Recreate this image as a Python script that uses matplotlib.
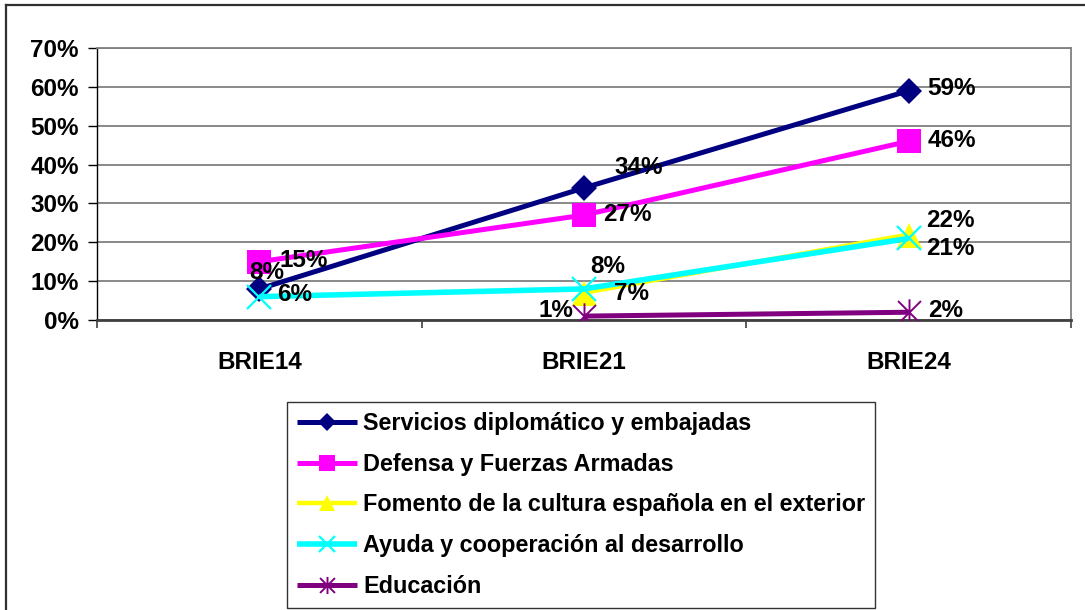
import numpy as np
import matplotlib
matplotlib.use("Agg")
import matplotlib.pyplot as plt
from matplotlib.path import Path
from matplotlib.lines import Line2D

plt.rcParams['font.family'] = ['Liberation Sans', 'DejaVu Sans']
plt.rcParams['font.weight'] = 'bold'

categories = ["BRIE14", "BRIE21", "BRIE24"]
servicios = [0.08, 0.34, 0.59]
defensa = [0.15, 0.27, 0.46]
fomento = [np.nan, 0.07, 0.22]
ayuda = [0.06, 0.08, 0.21]
educacion = [np.nan, 0.01, 0.02]
series_names = ["Servicios diplomático y embajadas", "Defensa y Fuerzas Armadas",
                "Fomento de la cultura española en el exterior",
                "Ayuda y cooperación al desarrollo", "Educación"]
yticks = [0, 0.1, 0.2, 0.3, 0.4, 0.5, 0.6, 0.7]

star = Path([(-1, -1), (1, 1), (-1, 1), (1, -1), (0, -1.15), (0, 1.15)],
            [Path.MOVETO, Path.LINETO, Path.MOVETO, Path.LINETO, Path.MOVETO, Path.LINETO])

styles = [
    dict(color="#000080", marker="D", ms=13.5, lw=3.6, mew=0),
    dict(color="#FF00FF", marker="s", ms=17, lw=3.6, mew=0),
    dict(color="#FFFF00", marker="^", ms=18, lw=3.2, mew=0),
    dict(color="#00FFFF", marker="x", ms=17, lw=4.0, mew=1.6),
    dict(color="#800080", marker=star, ms=19, lw=3.6, mew=1.4),
]
data = [servicios, defensa, fomento, ayuda, educacion]

# label offsets (pixels) per series/point
offsets = [
    [(-10, 16, 'left'), (30, 20, 'left'), (19, 2, 'left')],
    [(20, 1, 'left'), (19, 1, 'left'), (19, 1, 'left')],
    [None, (30, -1, 'left'), (17, 14, 'left')],
    [(18, 2, 'left'), (6, 22, 'left'), (17, -10, 'left')],
    [None, (-11, 6, 'right'), (19, 2, 'left')],
]

fig = plt.figure(figsize=(10.85, 6.10), dpi=100)
ax = fig.add_axes([97/1085, 1-320/610, (1071-97)/1085, (320-48)/610])

x = np.arange(len(categories))
handles = []
for name, vals, st in zip(series_names, data, styles):
    h, = ax.plot(x, vals, color=st["color"], lw=st["lw"], marker=st["marker"],
                 markersize=st["ms"], markeredgewidth=st["mew"],
                 markerfacecolor=st["color"], markeredgecolor=st["color"],
                 label=name, zorder=3, solid_capstyle='butt')
    handles.append(h)

for vals, offs in zip(data, offsets):
    for xi, v, o in zip(x, vals, offs):
        if o is None or np.isnan(v):
            continue
        ax.annotate(f"{round(v*100):d}%", (xi, v), xytext=(o[0], o[1]),
                    textcoords='offset pixels', ha=o[2], va='center',
                    fontsize=17.5, fontweight='bold', zorder=5)

ax.set_xlim(-0.5, 2.5)
ax.set_ylim(0, 0.7)
ax.set_yticks(yticks)
ax.set_yticklabels([f"{int(round(t*100))}%" for t in yticks], fontsize=17.5, fontweight='bold')
ax.yaxis.grid(True, color="#808080", lw=1.3)
ax.set_axisbelow(True)

ax.set_xticks([-0.5, 0.5, 1.5, 2.5])
ax.set_xticklabels([])
ax.set_xticks(x, minor=True)
ax.set_xticklabels(categories, minor=True, fontsize=17.5, fontweight='bold')
ax.tick_params(axis='x', which='major', length=6, width=1.2, direction='out', color="#404040")
ax.tick_params(axis='x', which='minor', length=0, pad=22)
ax.tick_params(axis='y', length=6.5, width=1.0, pad=6.5)

ax.spines['left'].set_color('black')
ax.spines['left'].set_linewidth(1.0)
ax.spines['bottom'].set_color('#404040')
ax.spines['bottom'].set_linewidth(2.0)
ax.spines['top'].set_color('#808080')
ax.spines['top'].set_linewidth(1.3)
ax.spines['right'].set_color('#808080')
ax.spines['right'].set_linewidth(1.3)

leg = ax.legend(handles=handles, loc='upper left', bbox_to_anchor=(287/1085, 1-402/610),
                bbox_transform=fig.transFigure, borderaxespad=0,
                frameon=True, fancybox=False, edgecolor='black', handlelength=2.55,
                handletextpad=0.28, labelspacing=0.76, borderpad=0.43, markerscale=0.65,
                prop={'weight': 'bold', 'size': 16.8})
leg.get_frame().set_linewidth(1.0)

# outer chart frame (left and top)
fig.add_artist(Line2D([6/1085, 6/1085], [0, 1-5/610], transform=fig.transFigure,
                      color='#303030', lw=1.6))
fig.add_artist(Line2D([6/1085, 1], [1-5/610, 1-5/610], transform=fig.transFigure,
                      color='#303030', lw=1.6))

fig.savefig("out.png", dpi=100)
